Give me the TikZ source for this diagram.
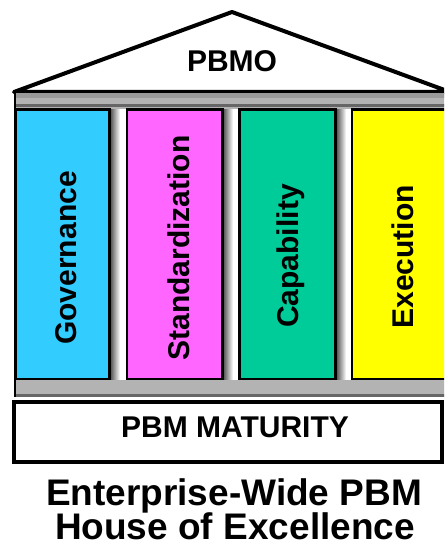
\documentclass[tikz,border=0pt]{standalone}
\usepackage{fontspec}
\setmainfont{Liberation Sans}
\definecolor{cblue}{HTML}{33CCFF}
\definecolor{cmag}{HTML}{FF66FF}
\definecolor{cgreen}{HTML}{00CC99}
\definecolor{cyel}{HTML}{FFFF00}
\definecolor{beamgray}{HTML}{B3B3B3}
\definecolor{beamdark}{HTML}{999999}
\begin{document}
\begin{tikzpicture}[x=1pt,y=-1pt,
  colbox/.style={draw=black,line width=2.5pt},
  sepbar/.style={left color=black!70,right color=white,draw=none},
  lbl/.style={font=\bfseries\fontsize{30}{30}\selectfont,inner sep=0pt},
  title/.style={font=\bfseries\fontsize{37}{37}\selectfont,inner sep=0pt}]
\useasboundingbox (0,0) rectangle (444,548);
\clip (0,0) rectangle (444,548);
\fill[white] (0,0) rectangle (444,548);
% roof
\draw[line width=4pt,line join=round,fill=white] (14,92) -- (232,12) -- (450,92) -- cycle;
\node[lbl] (pbmo) at (232,61) {PBMO};
% top beam
\fill[beamgray] (14,93) rectangle (470,109);
\fill[beamdark] (14,93) rectangle (470,98);
\fill[black!60] (14,104) rectangle (470,107);
\draw[line width=2pt] (15,93) -- (15,109);
% separators
\fill[white] (110,110) rectangle (124,379);
\fill[white] (223,110) rectangle (237,379);
\fill[white] (336,110) rectangle (350,379);
\path[sepbar] (110,110) rectangle (120,379);
\path[sepbar] (223,110) rectangle (233,379);
\path[sepbar] (336,110) rectangle (346,379);
% columns
\draw[colbox,fill=cblue] (15.5,109.5) rectangle (109.5,379);
\draw[colbox,fill=cmag] (127,109.5) rectangle (222.5,379);
\draw[colbox,fill=cgreen] (239.5,109.5) rectangle (335.5,379);
\draw[colbox,fill=cyel] (352,109.5) rectangle (470,379);
\node[lbl,rotate=90] (gov) at (66,258) {Governance};
\node[lbl,rotate=90] (std) at (179,248) {Standardization};
\node[lbl,rotate=90] (cap) at (291,256) {Capability};
\node[lbl,rotate=90] (exe) at (403,257) {Execution};
% bottom beam
\fill[beamgray] (14,380) rectangle (470,397);
\fill[black!60] (14,394) rectangle (470,397);
\draw[line width=2pt] (15,380) -- (15,397);
% base
\draw[line width=4pt,fill=white] (14,402) rectangle (442,462);
\node[lbl] (mat) at (235,427) {PBM MATURITY};
% caption
\node[title] (t1) at (234,496) {Enterprise-Wide PBM};
\node[title] (t2) at (235,526) {House of Excellence};
\end{tikzpicture}
\end{document}
